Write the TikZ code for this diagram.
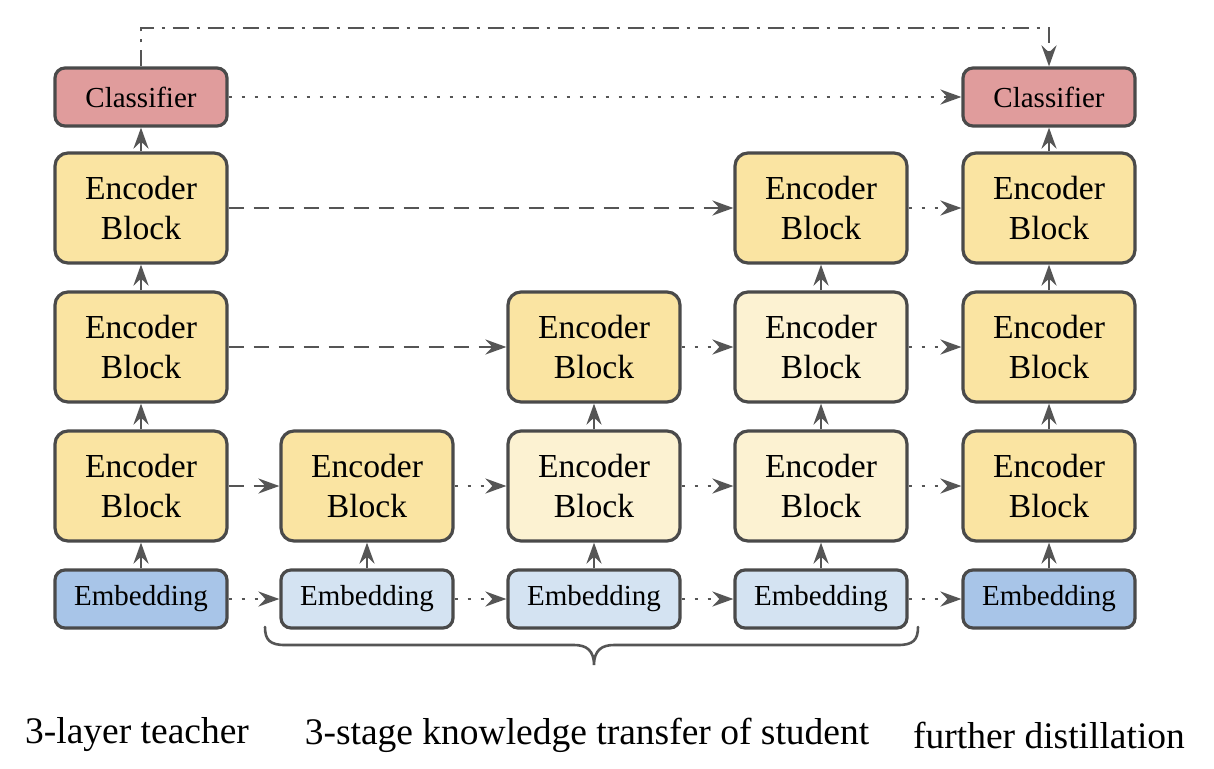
\documentclass[tikz,border=0pt]{standalone}
\usepackage{fontspec}
\setmainfont{Liberation Serif}
\usetikzlibrary{arrows.meta}
\definecolor{edge}{HTML}{4A4A4A}
\definecolor{conn}{HTML}{555555}
\definecolor{clsfill}{HTML}{E09C9C}
\definecolor{encdark}{HTML}{FAE4A2}
\definecolor{enclight}{HTML}{FCF2D2}
\definecolor{embdark}{HTML}{A8C5E8}
\definecolor{emblight}{HTML}{D4E3F2}
\tikzset{
  box/.style={draw=edge, line width=3.2pt, rounded corners=13pt, inner sep=0pt, align=center, text=black},
  encbox/.style={box, minimum width=172pt, minimum height=110pt, font=\fontsize{33.6pt}{40pt}\selectfont},
  smallbox/.style={box, rounded corners=10pt, minimum width=172pt, minimum height=58pt, font=\fontsize{29pt}{34pt}\selectfont},
  arrtip/.style={-{Stealth[length=21pt,width=15pt,inset=7pt]}},
  up/.style={arrtip, draw=conn, line width=2.8pt},
  dotarrow/.style={arrtip, draw=conn, line width=2.8pt, dash pattern=on 3pt off 10pt},
  dasharrow/.style={arrtip, draw=conn, line width=2.8pt, dash pattern=on 15pt off 10pt},
  dasharrowdot/.style={arrtip, draw=conn, line width=2.8pt, dash pattern=on 16pt off 8pt on 3pt off 8pt},
  caption/.style={font=\fontsize{37.5pt}{44pt}\selectfont, text=black}
}
\begin{document}
\begin{tikzpicture}[x=1pt, y=-1pt]
\useasboundingbox (0,0) rectangle (1214,768);
% column 1: teacher
\node[smallbox, fill=embdark] (e1) at (141,599) {Embedding};
\node[encbox, fill=encdark] (a1) at (141,486) {Encoder\\Block};
\node[encbox, fill=encdark] (b1) at (141,347) {Encoder\\Block};
\node[encbox, fill=encdark] (c1) at (141,208) {Encoder\\Block};
\node[smallbox, fill=clsfill] (k1) at (141,97) {Classifier};
% column 2
\node[smallbox, fill=emblight] (e2) at (367,599) {Embedding};
\node[encbox, fill=encdark] (a2) at (367,486) {Encoder\\Block};
% column 3
\node[smallbox, fill=emblight] (e3) at (594,599) {Embedding};
\node[encbox, fill=enclight] (a3) at (594,486) {Encoder\\Block};
\node[encbox, fill=encdark] (b3) at (594,347) {Encoder\\Block};
% column 4
\node[smallbox, fill=emblight] (e4) at (821,599) {Embedding};
\node[encbox, fill=enclight] (a4) at (821,486) {Encoder\\Block};
\node[encbox, fill=enclight] (b4) at (821,347) {Encoder\\Block};
\node[encbox, fill=encdark] (c4) at (821,208) {Encoder\\Block};
% column 5
\node[smallbox, fill=embdark] (e5) at (1049,599) {Embedding};
\node[encbox, fill=encdark] (a5) at (1049,486) {Encoder\\Block};
\node[encbox, fill=encdark] (b5) at (1049,347) {Encoder\\Block};
\node[encbox, fill=encdark] (c5) at (1049,208) {Encoder\\Block};
\node[smallbox, fill=clsfill] (k5) at (1049,97) {Classifier};
% vertical arrows
\draw[up] (e1) -- (a1); \draw[up] (a1) -- (b1); \draw[up] (b1) -- (c1); \draw[up] (c1) -- (k1);
\draw[up] (e2) -- (a2);
\draw[up] (e3) -- (a3); \draw[up] (a3) -- (b3);
\draw[up] (e4) -- (a4); \draw[up] (a4) -- (b4); \draw[up] (b4) -- (c4);
\draw[up] (e5) -- (a5); \draw[up] (a5) -- (b5); \draw[up] (b5) -- (c5); \draw[up] (c5) -- (k5);
% embedding row
\draw[dotarrow] (e1) -- (e2); \draw[dotarrow] (e2) -- (e3); \draw[dotarrow] (e3) -- (e4); \draw[dotarrow] (e4) -- (e5);
% row 1
\draw[dasharrow] (a1) -- (a2); \draw[dotarrow] (a2) -- (a3); \draw[dotarrow] (a3) -- (a4); \draw[dotarrow] (a4) -- (a5);
% row 2
\draw[dasharrow] (b1) -- (b3); \draw[dotarrow] (b3) -- (b4); \draw[dotarrow] (b4) -- (b5);
% row 3
\draw[dasharrow] (c1) -- (c4); \draw[dotarrow] (c4) -- (c5);
% classifier
\draw[dotarrow] (k1) -- (k5);
\coordinate (t1) at (141,28);
\coordinate (t5) at (1049,28);
\draw[dasharrowdot] (k1.north) -- (t1) -- (t5) -- (k5.north);
% brace
\coordinate (bl) at (265,627);
\coordinate (br) at (918,627);
\coordinate (bt) at (594,665);
\draw[draw=conn, line width=2.6pt, line cap=round] (bl) .. controls (265,640) and (270,645) .. (285,645) -- (574,645) .. controls (586,645) and (594,650) .. (bt) .. controls (594,650) and (602,645) .. (614,645) -- (898,645) .. controls (913,645) and (918,640) .. (br);
% captions
\node[caption] (l1) at (137,735) {3-layer teacher};
\node[caption] (l2) at (587,735) {3-stage knowledge transfer of student};
\node[caption] (l3) at (1049,735) {further distillation};
\end{tikzpicture}
\end{document}
